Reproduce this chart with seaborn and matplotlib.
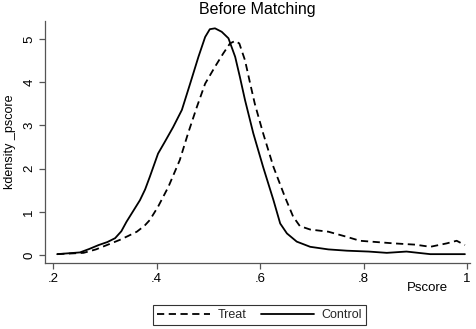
import numpy as np
import pandas as pd
import matplotlib
matplotlib.use("Agg")
import matplotlib.pyplot as plt
from matplotlib.lines import Line2D
import seaborn as sns

# Data (kernel density estimates of pscore)
control_x = [0.208, 0.252, 0.270, 0.288, 0.305, 0.320, 0.332, 0.342, 0.355, 0.368,
             0.378, 0.387, 0.395, 0.403, 0.416, 0.432, 0.449, 0.465, 0.481, 0.494,
             0.503, 0.513, 0.526, 0.539, 0.552, 0.561, 0.571, 0.587, 0.606, 0.626,
             0.639, 0.652, 0.671, 0.697, 0.732, 0.768, 0.810, 0.845, 0.883, 0.929,
             0.960, 0.996]
control_y = [0.02, 0.06, 0.14, 0.23, 0.30, 0.39, 0.55, 0.77, 1.02, 1.27,
             1.52, 1.81, 2.08, 2.35, 2.62, 2.96, 3.36, 3.97, 4.59, 5.05,
             5.23, 5.25, 5.17, 5.02, 4.59, 4.13, 3.59, 2.82, 2.04, 1.27,
             0.73, 0.50, 0.31, 0.19, 0.13, 0.10, 0.08, 0.05, 0.08, 0.02,
             0.02, 0.02]

treat_x = [0.208, 0.259, 0.283, 0.304, 0.329, 0.345, 0.362, 0.377, 0.387, 0.403,
           0.423, 0.445, 0.461, 0.478, 0.494, 0.513, 0.529, 0.542, 0.552, 0.560,
           0.571, 0.581, 0.590, 0.606, 0.626, 0.648, 0.664, 0.677, 0.697, 0.732,
           0.768, 0.793, 0.858, 0.900, 0.929, 0.961, 0.980, 0.996]
treat_y = [0.02, 0.05, 0.13, 0.23, 0.35, 0.44, 0.54, 0.68, 0.81, 1.12,
           1.58, 2.20, 2.82, 3.43, 3.97, 4.36, 4.67, 4.90, 4.96, 4.90,
           4.51, 3.97, 3.50, 2.82, 2.04, 1.35, 0.89, 0.67, 0.59, 0.54,
           0.42, 0.33, 0.27, 0.24, 0.19, 0.27, 0.33, 0.23]

group_names = ["Treat", "Control"]
title_text = "Before Matching"
x_label = "Pscore"
y_label = "kdensity _pscore"
x_ticks = [0.2, 0.4, 0.6, 0.8, 1.0]
x_tick_labels = [".2", ".4", ".6", ".8", "1"]
y_ticks = [0, 1, 2, 3, 4, 5]

df = pd.concat([
    pd.DataFrame({"pscore": treat_x, "density": treat_y, "group": group_names[0]}),
    pd.DataFrame({"pscore": control_x, "density": control_y, "group": group_names[1]}),
], ignore_index=True)

sns.set_theme(style="white")
plt.rcParams["font.family"] = ["Liberation Sans", "DejaVu Sans"]

fig = plt.figure(figsize=(4.77, 3.29), dpi=100)
ax = fig.add_axes([45 / 477, 66 / 329, 425 / 477, 242 / 329])

sns.lineplot(data=df, x="pscore", y="density", hue="group", style="group",
             hue_order=group_names, style_order=group_names,
             palette={"Treat": "black", "Control": "black"},
             dashes={"Treat": (4, 2.5), "Control": ""},
             linewidth=1.3, sort=False, estimator=None, ax=ax, legend=False)
for ln in ax.get_lines():
    ln.set_solid_joinstyle("round")
    ln.set_dash_joinstyle("round")

ax.set_xlim(0.1845, 1.0058)
ax.set_ylim(-0.185, 5.42)
ax.set_xticks(x_ticks)
ax.set_xticklabels(x_tick_labels)
ax.set_yticks(y_ticks)
ax.set_yticklabels([str(v) for v in y_ticks], rotation=90, va="center")

for s in ["top", "right"]:
    ax.spines[s].set_visible(False)
for s in ["left", "bottom"]:
    ax.spines[s].set_color("#555555")
    ax.spines[s].set_linewidth(0.9)
ax.tick_params(axis="both", which="major", direction="out", length=4, width=0.9,
               color="#555555", labelsize=9.5, labelcolor="black", pad=3)
ax.tick_params(axis="x", bottom=True)
ax.tick_params(axis="y", left=True)

ax.set_title(title_text, fontsize=11.5, color="black", pad=5)
ax.set_ylabel(y_label, fontsize=9, color="black")
ax.yaxis.set_label_coords(-0.068, 0.5)
ax.set_xlabel(x_label, fontsize=9.5, color="black", loc="right")
ax.xaxis.set_label_coords(0.948, -0.08)
ax.xaxis.label.set_verticalalignment("top")

handles = [Line2D([], [], color="black", linewidth=1.3, linestyle=(0, (4, 2.5))),
           Line2D([], [], color="black", linewidth=1.3, linestyle="-")]
leg = fig.legend(handles, group_names, loc="center", bbox_to_anchor=(0.544, 0.0426),
                 ncol=2, frameon=True, fancybox=False, edgecolor="black",
                 fontsize=9, handlelength=4.2, columnspacing=1.2,
                 borderpad=0.35, handletextpad=0.6)
leg.get_frame().set_linewidth(0.8)

fig.savefig("out.png", dpi=100)
